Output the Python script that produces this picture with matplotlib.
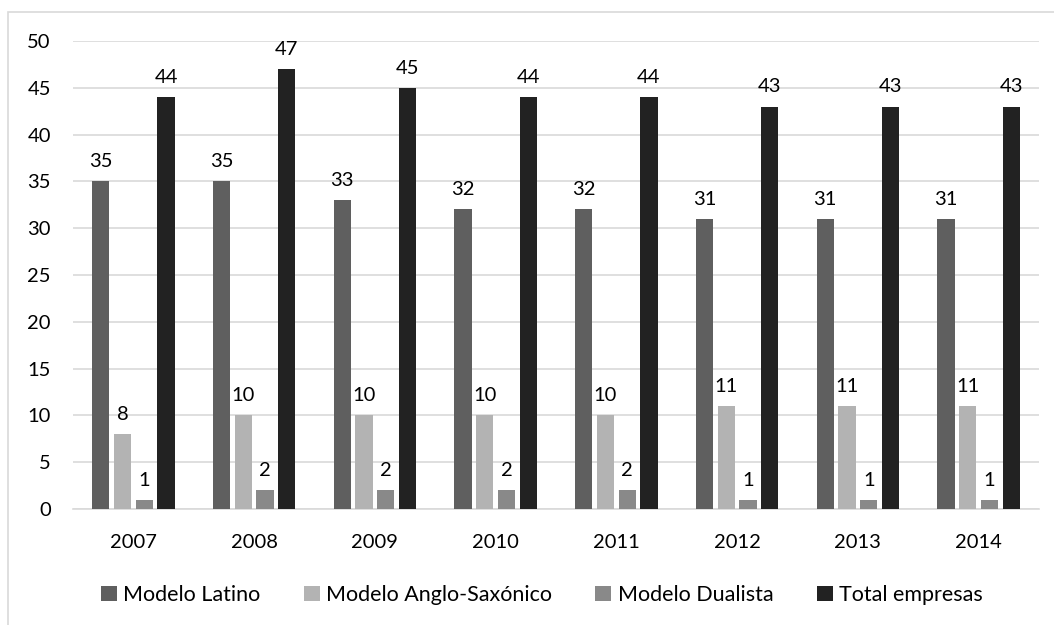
import matplotlib
matplotlib.use("Agg")
import matplotlib.pyplot as plt
import numpy as np
from matplotlib.patches import Rectangle

plt.rcParams['font.family'] = ['Lato', 'DejaVu Sans']

years = ["2007", "2008", "2009", "2010", "2011", "2012", "2013", "2014"]
modelo_latino = [35, 35, 33, 32, 32, 31, 31, 31]
modelo_anglo = [8, 10, 10, 10, 10, 11, 11, 11]
modelo_dualista = [1, 2, 2, 2, 2, 1, 1, 1]
total_empresas = [44, 47, 45, 44, 44, 43, 43, 43]

series = [
    ("Modelo Latino", modelo_latino, "#5f5f5f"),
    ("Modelo Anglo-Saxónico", modelo_anglo, "#b3b3b3"),
    ("Modelo Dualista", modelo_dualista, "#898989"),
    ("Total empresas", total_empresas, "#222222"),
]

fig = plt.figure(figsize=(10.54, 6.25), dpi=100)
ax = fig.add_axes([0.0693, 1 - 509 / 625, 0.9165, (509 - 41) / 625])

# chart frame (only top and left edges fall inside the canvas)
fig.patches.append(Rectangle((8 / 1054, -0.1), 1.2, 1 - 12 / 625 + 0.1,
                             transform=fig.transFigure, fill=False,
                             edgecolor="#d9d9d9", linewidth=1.2))

x = np.arange(len(years))
pitch = 0.18
width = 0.142
for i, (name, vals, color) in enumerate(series):
    pos = x + (i - 1.5) * pitch
    bars = ax.bar(pos, vals, width=width, color=color, label=name, zorder=3)
    for b, v in zip(bars, vals):
        ax.annotate(str(v), (b.get_x() + b.get_width() / 2, v),
                    xytext=(0, 8), textcoords="offset points",
                    ha="center", va="bottom", fontsize=14.5, color="#000000")

ax.set_xlim(-0.5, len(years) - 0.5)
ax.set_ylim(0, 50)
ax.set_yticks(range(0, 51, 5))
ax.set_xticks(x)
ax.set_xticklabels(years)
ax.tick_params(axis="both", length=0, labelsize=14.5, colors="#000000")
ax.tick_params(axis="x", pad=18)
ax.tick_params(axis="y", pad=16)
ax.grid(axis="y", color="#d9d9d9", linewidth=1.2, zorder=0)
for s in ["top", "right", "left"]:
    ax.spines[s].set_visible(False)
ax.spines["bottom"].set_color("#d9d9d9")
ax.spines["bottom"].set_linewidth(1.2)

fig.legend(loc="center", bbox_to_anchor=(0.514, 1 - 595 / 625), ncol=4,
           frameon=False, fontsize=15.5, handlelength=0.75, handleheight=0.75,
           handletextpad=0.3, columnspacing=2.0)

fig.savefig("out.png", dpi=100)
